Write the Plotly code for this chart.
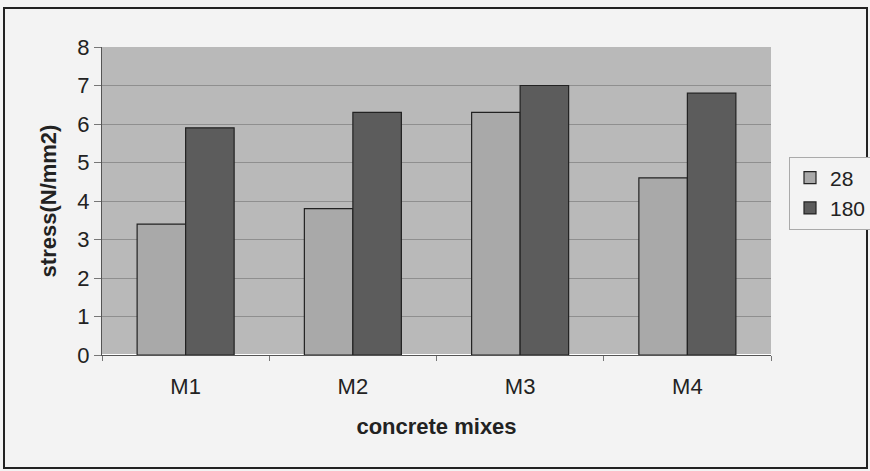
import plotly.graph_objects as go

categories = ["M1", "M2", "M3", "M4"]
series_names = ["28", "180"]
values_28 = [3.4, 3.8, 6.3, 4.6]
values_180 = [5.9, 6.3, 7.0, 6.8]
y_ticks = [0, 1, 2, 3, 4, 5, 6, 7, 8]

W, H = 870, 471
L, R, T, B = 102, 99, 47, 116
pw, ph = W - L - R, H - T - B

fig = go.Figure()
fig.add_trace(go.Bar(x=categories, y=values_28, name=series_names[0],
                     marker=dict(color="#a9a9a9", line=dict(color="#222", width=1.2))))
fig.add_trace(go.Bar(x=categories, y=values_180, name=series_names[1],
                     marker=dict(color="#5c5c5c", line=dict(color="#222", width=1.2))))

def px_x(x):
    return (x - L) / pw

def px_y(y):
    return (H - B - y) / ph

fig.update_layout(
    width=W, height=H,
    margin=dict(l=L, r=R, t=T, b=B, autoexpand=False),
    paper_bgcolor="#f3f3f3",
    plot_bgcolor="#b9b9b9",
    barmode="group",
    bargap=0.42,
    bargroupgap=0,
    font=dict(family="Liberation Sans, Arial", color="#222"),
    legend=dict(x=px_x(789), y=px_y(193), xanchor="left", yanchor="middle",
                bgcolor="#f3f3f3", bordercolor="#aaa", borderwidth=1,
                font=dict(size=21), traceorder="normal", itemwidth=30,
                tracegroupgap=4),
    xaxis=dict(showline=True, linecolor="#555", linewidth=1, ticks="outside",
               tickson="boundaries", ticklen=5, tickcolor="#777",
               tickfont=dict(size=22), ticklabelstandoff=12,
               title=dict(text="<b>concrete mixes</b>", font=dict(size=22), standoff=20),
               mirror=False),
    yaxis=dict(range=[0, 8], tickvals=y_ticks, showline=True, linecolor="#555", linewidth=1,
               ticks="outside", ticklen=7, tickcolor="#777", tickfont=dict(size=22),
               gridcolor="#8f8f8f", gridwidth=1,
               title=dict(text="<b>stress(N/mm2)</b>", font=dict(size=22), standoff=14)),
    shapes=[dict(type="rect", xref="paper", yref="paper",
                 x0=px_x(4), x1=px_x(867), y0=px_y(468), y1=px_y(8),
                 line=dict(color="#222", width=2), layer="below")],
)
fig.write_html("out.html", config={"displayModeBar": False},
               post_script="document.body.style.margin='0';document.body.style.overflow='hidden';")
